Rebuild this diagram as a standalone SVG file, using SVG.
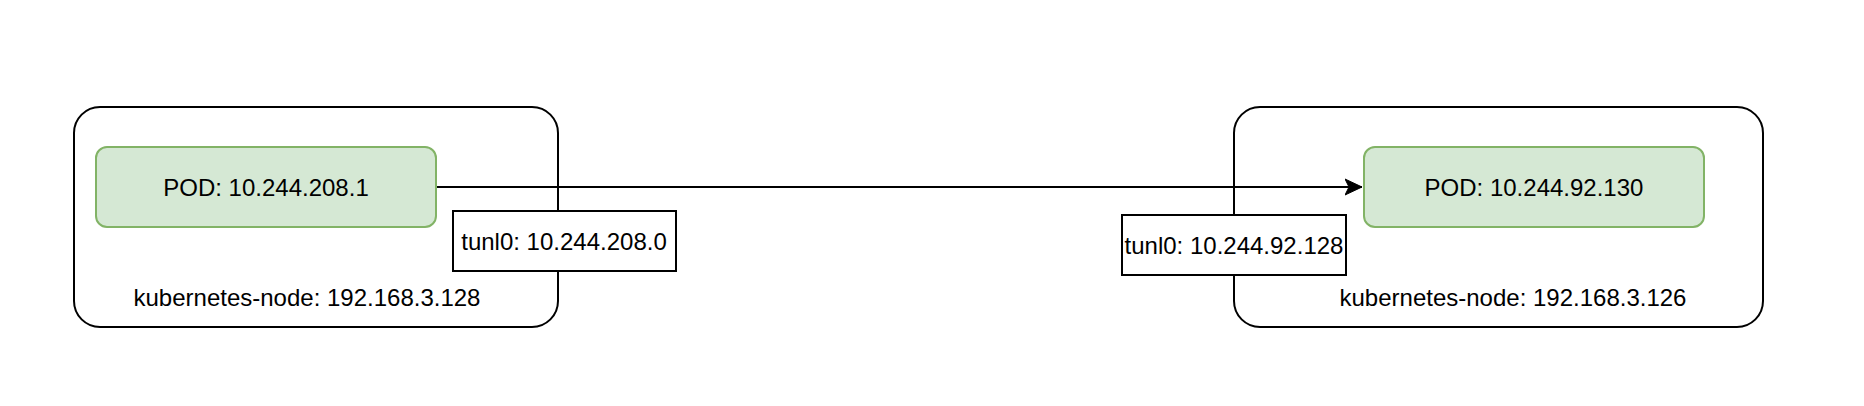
<svg xmlns="http://www.w3.org/2000/svg" width="1864" height="406" viewBox="0 0 1864 406">
<style>
.host{fill:#ffffff;stroke:#000000;stroke-width:2}
.pod{fill:#d5e8d4;stroke:#82b366;stroke-width:2}
.tun{fill:#ffffff;stroke:#000000;stroke-width:2}
.edge{fill:none;stroke:#000000;stroke-width:2}
text{font-family:"Liberation Sans",Arial,Helvetica,sans-serif;font-size:24px;fill:#000000;text-anchor:middle;dominant-baseline:central}
</style>
<defs>
<marker id="arrow" viewBox="0 0 20 20" refX="17" refY="10" markerWidth="20" markerHeight="20" markerUnits="userSpaceOnUse" orient="auto">
<path d="M0,2 L17,10 L0,18 L4,10 Z" fill="#000000" stroke="#000000" stroke-width="1"/>
</marker>
</defs>
<rect width="1864" height="406" fill="#ffffff"/>
<g id="host-left">
<rect class="host" x="74" y="107" width="484" height="220" rx="26" ry="26"/>
<text x="307" y="297">kubernetes-node: 192.168.3.128</text>
</g>
<g id="host-right">
<rect class="host" x="1234" y="107" width="529" height="220" rx="26" ry="26"/>
<text x="1513" y="297">kubernetes-node: 192.168.3.126</text>
</g>
<g id="connectors">
<line class="edge" x1="436" y1="187" x2="1362" y2="187" marker-end="url(#arrow)"/>
</g>
<g id="pod-left">
<rect class="pod" x="96" y="147" width="340" height="80" rx="11" ry="11"/>
<text x="266" y="187">POD: 10.244.208.1</text>
</g>
<g id="pod-right">
<rect class="pod" x="1364" y="147" width="340" height="80" rx="11" ry="11"/>
<text x="1534" y="187">POD: 10.244.92.130</text>
</g>
<g id="tunl-left">
<rect class="tun" x="453" y="211" width="223" height="60"/>
<text x="564" y="241">tunl0: 10.244.208.0</text>
</g>
<g id="tunl-right">
<rect class="tun" x="1122" y="215" width="224" height="60"/>
<text x="1234" y="245">tunl0: 10.244.92.128</text>
</g>
</svg>
